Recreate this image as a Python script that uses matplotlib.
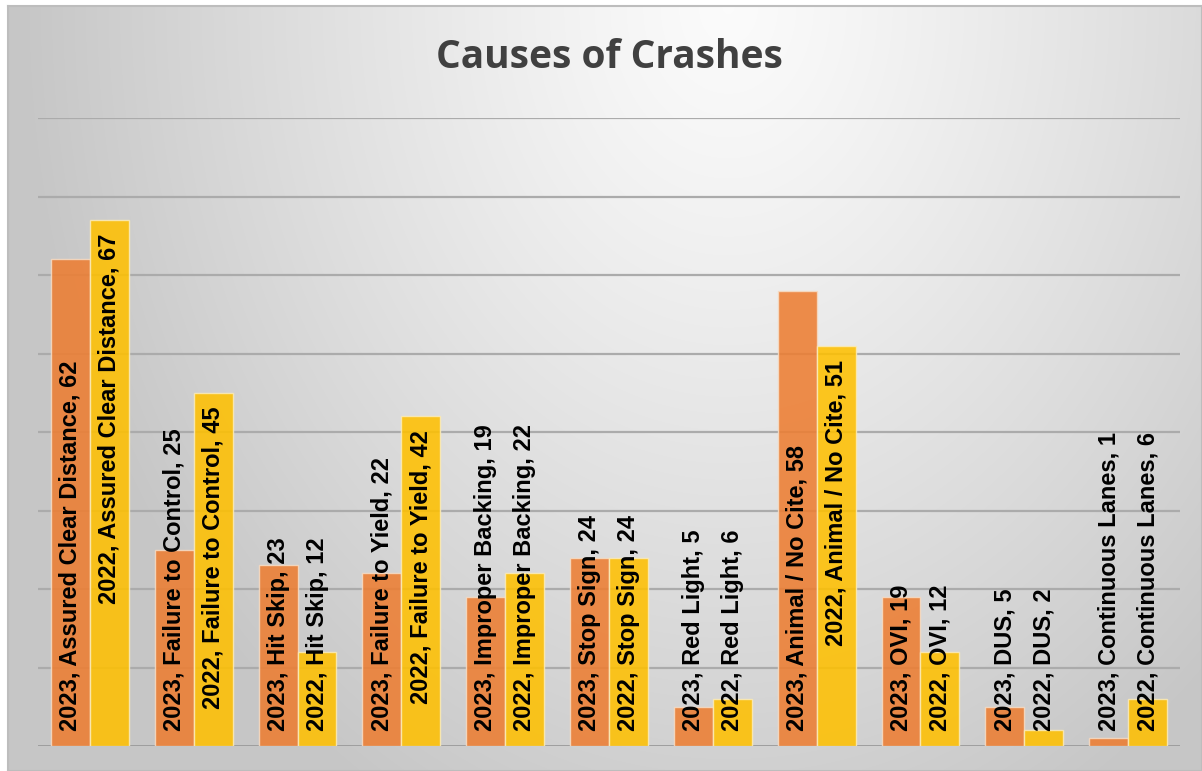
import numpy as np
import matplotlib
matplotlib.use("Agg")
import matplotlib.pyplot as plt

# datos del grafico
causas = ["Assured Clear Distance", "Failure to Control", "Hit Skip", "Failure to Yield",
          "Improper Backing", "Stop Sign", "Red Light", "Animal / No Cite", "OVI", "DUS",
          "Continuous Lanes"]
valores_2023 = [62, 25, 23, 22, 19, 24, 5, 58, 19, 5, 1]
valores_2022 = [67, 45, 12, 42, 22, 24, 6, 51, 12, 2, 6]
series = ["2023", "2022"]

W, H = 1202, 771
fig = plt.figure(figsize=(W / 100, H / 100), dpi=100)
fig.patch.set_facecolor("white")

# fondo con degradado (blanco arriba al centro, gris en los bordes)
ax_bg = fig.add_axes([8 / W, 0, 1 - 8 / W, (H - 6) / H])
yy, xx = np.mgrid[0:H - 6, 0:W - 8]
d = np.sqrt(((xx - 720) / 700.0) ** 2 + ((yy - 0) / 900.0) ** 2)
d = np.clip(d, 0, 1)
g = 0.985 - (0.985 - 0.78) * d ** 1.2
ax_bg.imshow(np.dstack([g, g, g]), aspect="auto", interpolation="bilinear")
ax_bg.set_xticks([])
ax_bg.set_yticks([])
for s in ax_bg.spines.values():
    s.set_color("#BDBDBD")
    s.set_linewidth(1.5)

# ejes principales
ax = fig.add_axes([38 / W, 25 / H, (1180 - 38) / W, (746 - 118) / H])
ax.patch.set_alpha(0)
x = np.arange(len(causas))
ancho = 0.375

b23 = ax.bar(x - ancho / 2, valores_2023, ancho, color="#ED7D31", alpha=0.87,
             edgecolor="#F6DCC4", linewidth=1, zorder=3)
b22 = ax.bar(x + ancho / 2, valores_2022, ancho, color="#FFC000", alpha=0.87,
             edgecolor="#FBEBB8", linewidth=1, zorder=3)

ax.set_xlim(-0.5, len(causas) - 0.5)
ax.set_ylim(0, 80)
ax.set_yticks(range(10, 81, 10))
ax.yaxis.grid(True, color="#ABABAB", linewidth=1.6, zorder=1)
ax.axhline(0, color="#9A9A9A", linewidth=2, zorder=2)
ax.set_xticks([])
ax.tick_params(left=False, labelleft=False)
for s in ax.spines.values():
    s.set_visible(False)

# etiquetas verticales dentro de las barras
fig.canvas.draw()
rend = fig.canvas.get_renderer()
for serie, barras, vals in [(series[0], b23, valores_2023), (series[1], b22, valores_2022)]:
    for i, (barra, v) in enumerate(zip(barras, vals)):
        cx = barra.get_x() + barra.get_width() / 2
        txt = f"{serie}, {causas[i]}, {v}"
        t = ax.annotate(txt, (cx, 0), xytext=(0, 11), textcoords="offset points",
                        rotation=90, ha="center", va="bottom", fontsize=17,
                        fontweight="bold", family="Liberation Sans", color="black", zorder=5)
        if serie == "2022":
            alto_txt = t.get_window_extent(rend).height
            alto_barra = ax.transData.transform((0, v))[1] - ax.transData.transform((0, 0))[1]
            if alto_txt + 30 < alto_barra:
                # cabe: se pone arriba (inside end)
                t.xy = (cx, v)
                t.set_position((0, -10))
                t.set_va("top")

fig.text(609 / W, 1 - 58 / H, "Causes of Crashes", ha="center", va="center",
         fontsize=28, fontweight="bold", family="Open Sans", color="#404040")

fig.savefig("out.png", dpi=100)
